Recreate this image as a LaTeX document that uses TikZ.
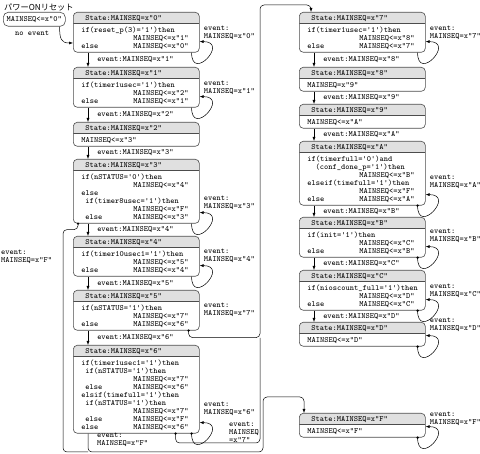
\documentclass[tikz,border=0pt]{standalone}
\usepackage{fontspec}
\newfontfamily\jpfont{Noto Sans CJK JP}
\usetikzlibrary{arrows.meta, positioning, calc}
\newcommand\mono{\fontsize{8}{8}\selectfont\ttfamily\lineskiplimit=-8pt\relax}
\newcommand\ind{\hspace*{4.2pt}}
\newcommand\nxt[2]{\makebox[52pt][l]{#1}#2}
\newcommand\sthead[1]{\rule{0pt}{8.5pt}\hspace*{4pt}State:MAINSEQ=x"#1"\\[4pt]}
\newcommand\stend{\rule[-3.5pt]{0pt}{3.5pt}}

\begin{document}
\begin{tikzpicture}[x=1pt, y=-1pt,
        state/.style={draw=black!70, line width=0.6pt, rounded corners=4pt, anchor=north west,
                      text width=110pt, inner xsep=8pt, inner ysep=0pt, align=left, font=\mono,
                      path picture={\fill[black!12, sharp corners] (path picture bounding box.north west)
                                        rectangle ([yshift=-11pt]path picture bounding box.north east);
                                    \draw[black!70, line width=0.6pt, sharp corners]
                                        ([yshift=-11pt]path picture bounding box.north west)
                                        -- ([yshift=-11pt]path picture bounding box.north east);}},
        lbl/.style={font=\mono, inner sep=0pt, align=left, anchor=west},
        tr/.style={line width=0.5pt, -{Latex[length=4pt, width=3pt]}},
        ln/.style={line width=0.5pt, rounded corners=4pt}
    ]
    \useasboundingbox (0,0) rectangle (480,454);

    % power-on reset
    \node[anchor=west, inner sep=0pt, font=\jpfont\fontsize{8.2}{9}\selectfont] (ttl) at (4,7) {パワーONリセット};
    \node[draw=black!70, line width=0.6pt, rounded corners=5pt, anchor=north west, font=\mono,
          minimum width=62pt, minimum height=14pt, inner sep=0pt] (pwr) at (3,12) {MAINSEQ<=x"0"};
    \node[lbl] (nev) at (15,33) {no event};

    % left column
    \node[state] (s0) at (73,12) {\sthead{0}if(reset\_p(3)='1')then\\\nxt{}{MAINSEQ<=x"1"}\\\nxt{else}{MAINSEQ<=x"0"}\stend};
    \node[state] (s1) at (73,67) {\sthead{1}if(timer1usec='1')then\\\nxt{}{MAINSEQ<=x"2"}\\\nxt{else}{MAINSEQ<=x"1"}\stend};
    \node[state] (s2) at (73,122) {\sthead{2}MAINSEQ<=x"3"\stend};
    \node[state] (s3) at (73,159) {\sthead{3}if(nSTATUS='0')then\\\nxt{}{MAINSEQ<=x"4"}\\else\\\ind if(timer8usec='1')then\\\nxt{}{MAINSEQ<=x"F"}\\\nxt{\ind else}{MAINSEQ<=x"3"}\stend};
    \node[state] (s4) at (73,236) {\sthead{4}if(timer10usec1='1')then\\\nxt{}{MAINSEQ<=x"5"}\\\nxt{else}{MAINSEQ<=x"4"}\stend};
    \node[state] (s5) at (73,290) {\sthead{5}if(nSTATUS='1')then\\\nxt{}{MAINSEQ<=x"7"}\\\nxt{else}{MAINSEQ<=x"6"}\stend};
    \node[state] (s6) at (73,345) {\sthead{6}if(timer1usec1='1')then\\\ind if(nSTATUS='1')then\\\nxt{}{MAINSEQ<=x"7"}\\\nxt{\ind else}{MAINSEQ<=x"6"}\\elsif(timefull='1')then\\\ind if(nSTATUS='1')then\\\nxt{}{MAINSEQ<=x"7"}\\\nxt{\ind else}{MAINSEQ<=x"F"}\\\nxt{else}{MAINSEQ<=x"6"}\stend};

    % right column
    \node[state] (s7) at (299,12) {\sthead{7}if(timer1usec='1')then\\\nxt{}{MAINSEQ<=x"8"}\\\nxt{else}{MAINSEQ<=x"7"}\stend};
    \node[state] (s8) at (299,67) {\sthead{8}MAINSEQ=x"9"\stend};
    \node[state] (s9) at (299,104) {\sthead{9}MAINSEQ<=x"A"\stend};
    \node[state] (sa) at (299,141) {\sthead{A}if(timerfull='0')and\\\ind\ind(conf\_done\_p='1')then\\\nxt{}{MAINSEQ<=x"B"}\\elseif(timefull='1')then\\\nxt{}{MAINSEQ<=x"F"}\\\nxt{else}{MAINSEQ<=x"A"}\stend};
    \node[state] (sb) at (299,217) {\sthead{B}if(init='1')then\\\nxt{}{MAINSEQ<=x"C"}\\\nxt{else}{MAINSEQ<=x"B"}\stend};
    \node[state] (sc) at (299,270) {\sthead{C}if(nioscount\_full='1')then\\\nxt{}{MAINSEQ<=x"D"}\\\nxt{else}{MAINSEQ<=x"C"}\stend};
    \node[state] (sd) at (299,322) {\sthead{D}MAINSEQ<=x"D"\stend};
    \node[state] (sf) at (299,413) {\sthead{F}MAINSEQ<=x"F"\stend};

    \draw[tr] ([xshift=-6pt]pwr.south east) .. controls +(0,12) and +(-12,0) .. ([yshift=-31pt]s0.north west);

    % next state
    \foreach \a/\b/\v in {s0/s1/1, s1/s2/2, s2/s3/3, s3/s4/4, s4/s5/5, s5/s6/6,
                          s7/s8/8, s8/s9/9, s9/sa/A, sa/sb/B, sb/sc/C, sc/sd/D}
        \draw[tr] ([xshift=15pt]\a.south west) -- ([xshift=15pt]\b.north west)
            node[lbl, midway, right=9pt] {event:MAINSEQ=x"\v"};

    % stay
    \foreach \s in {s0, s1, s3, s4, s7}
        \draw[tr] ([xshift=-8pt]\s.south east) .. controls +(0,30) and +(30,0) .. ([yshift=11pt]\s.south east);
    \foreach \s in {s6, sa, sb, sc, sd, sf} {
        \draw[tr] ([xshift=-8pt]\s.south east) .. controls +(0,30) and +(30,0) .. ([yshift=11pt]\s.south east);
        \fill ([xshift=-8pt]\s.south east) circle (1.3pt);
    }
    \foreach \s/\v/\h in {s0/0/20, s1/1/20, s3/3/21, s4/4/21, s6/6/25, s7/7/20,
                          sa/A/24, sb/B/22, sc/C/20, sd/D/22, sf/F/19}
        \node[lbl] (e\s) at ([xshift=4pt, yshift=\h pt]\s.south east) {event:\\MAINSEQ=x"\v"};

    % jumps
    \coordinate (d3) at ([xshift=5pt]s3.south west);
    \coordinate (d5) at ([xshift=-11pt]s5.south east);
    \coordinate (d6) at ([xshift=-24pt]s6.south east);
    \coordinate (b6) at ([xshift=15pt]s6.south west);
    \foreach \d in {d3, d5, d6}
        \fill (\d) circle (1.3pt);

    \draw[tr, rounded corners=4pt] (d5) -- ++(0,7) -| (260,5) -| ([xshift=12pt]s7.north west);
    \draw[ln] (d6) |- (260,443) -- (260,338);
    \draw[tr, rounded corners=4pt] (b6) |- (263,452) |- (304,397) -- ([xshift=5pt]sf.north west);
    \draw[ln] (d3) -- ++(0,6) -| (63,452) -- (88,452);

    \node[lbl] (e57) at ([xshift=4pt]s5.east) {event:\\MAINSEQ=x"7"};
    \node[lbl] (e67) at (229,432) {event:\\MAINSEQ\\=x"7"};
    \node[lbl] (e3f) at (1,257) {event:\\MAINSEQ=x"F"};
    \node[lbl] (e6f) at (97,440) {event:\\MAINSEQ=x"F"};
\end{tikzpicture}
\end{document}
